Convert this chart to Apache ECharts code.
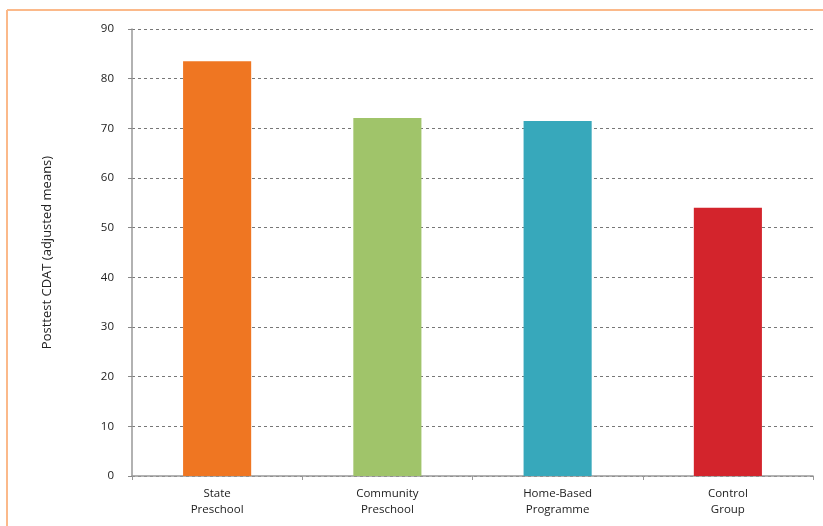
<!DOCTYPE html>
<html><head><meta charset="utf-8">
<script src="https://cdn.jsdelivr.net/npm/echarts@6/dist/echarts.min.js"></script>
<style>html,body{margin:0;padding:0;background:#fff}#c{width:823px;height:526px}</style>
</head><body><div id="c"></div>
<script>
const categories = ["State\nPreschool", "Community\nPreschool", "Home-Based\nProgramme", "Control\nGroup"];
const values = [83.5, 72.1, 71.5, 54];
const colors = ["#EF7622", "#A0C46A", "#37A8BB", "#D3242C"];
const yTicks = { min: 0, max: 90, interval: 10 };
const yName = "Posttest CDAT (adjusted means)";

const chart = echarts.init(document.getElementById('c'));
const font = "'Open Sans', 'Noto Sans', sans-serif";
chart.setOption({
  animation: false,
  textStyle: { fontFamily: font },
  graphic: [
    { type: 'line', shape: { x1: 7, y1: 10, x2: 823, y2: 10 }, style: { stroke: '#FBB98A', lineWidth: 2 } },
    { type: 'line', shape: { x1: 7, y1: 10, x2: 7, y2: 526 }, style: { stroke: '#FBB98A', lineWidth: 2 } }
  ],
  grid: { left: 132, right: 10, top: 29, bottom: 50 },
  xAxis: {
    type: 'category',
    data: categories,
    axisLine: { lineStyle: { color: '#999', width: 1.5 } },
    axisTick: { show: true, length: 4, lineStyle: { color: '#999' } },
    axisLabel: { color: '#222', fontSize: 11.5, lineHeight: 16, margin: 10, fontFamily: font }
  },
  yAxis: {
    type: 'value',
    min: yTicks.min, max: yTicks.max, interval: yTicks.interval,
    name: yName,
    nameLocation: 'middle',
    nameGap: 78,
    nameTextStyle: { color: '#222', fontSize: 13, fontFamily: font },
    axisLine: { show: true, lineStyle: { color: '#999', width: 1.5 } },
    axisTick: { show: true, length: 4, lineStyle: { color: '#888' } },
    axisLabel: { color: '#222', fontSize: 11.5, margin: 18, fontFamily: font },
    splitLine: { show: true, lineStyle: { color: '#777', type: [3, 3], width: 1 } }
  },
  series: [{
    type: 'bar',
    barWidth: '40%',
    data: values.map((v, i) => ({ value: v, itemStyle: { color: colors[i] } }))
  }]
});
</script></body></html>
